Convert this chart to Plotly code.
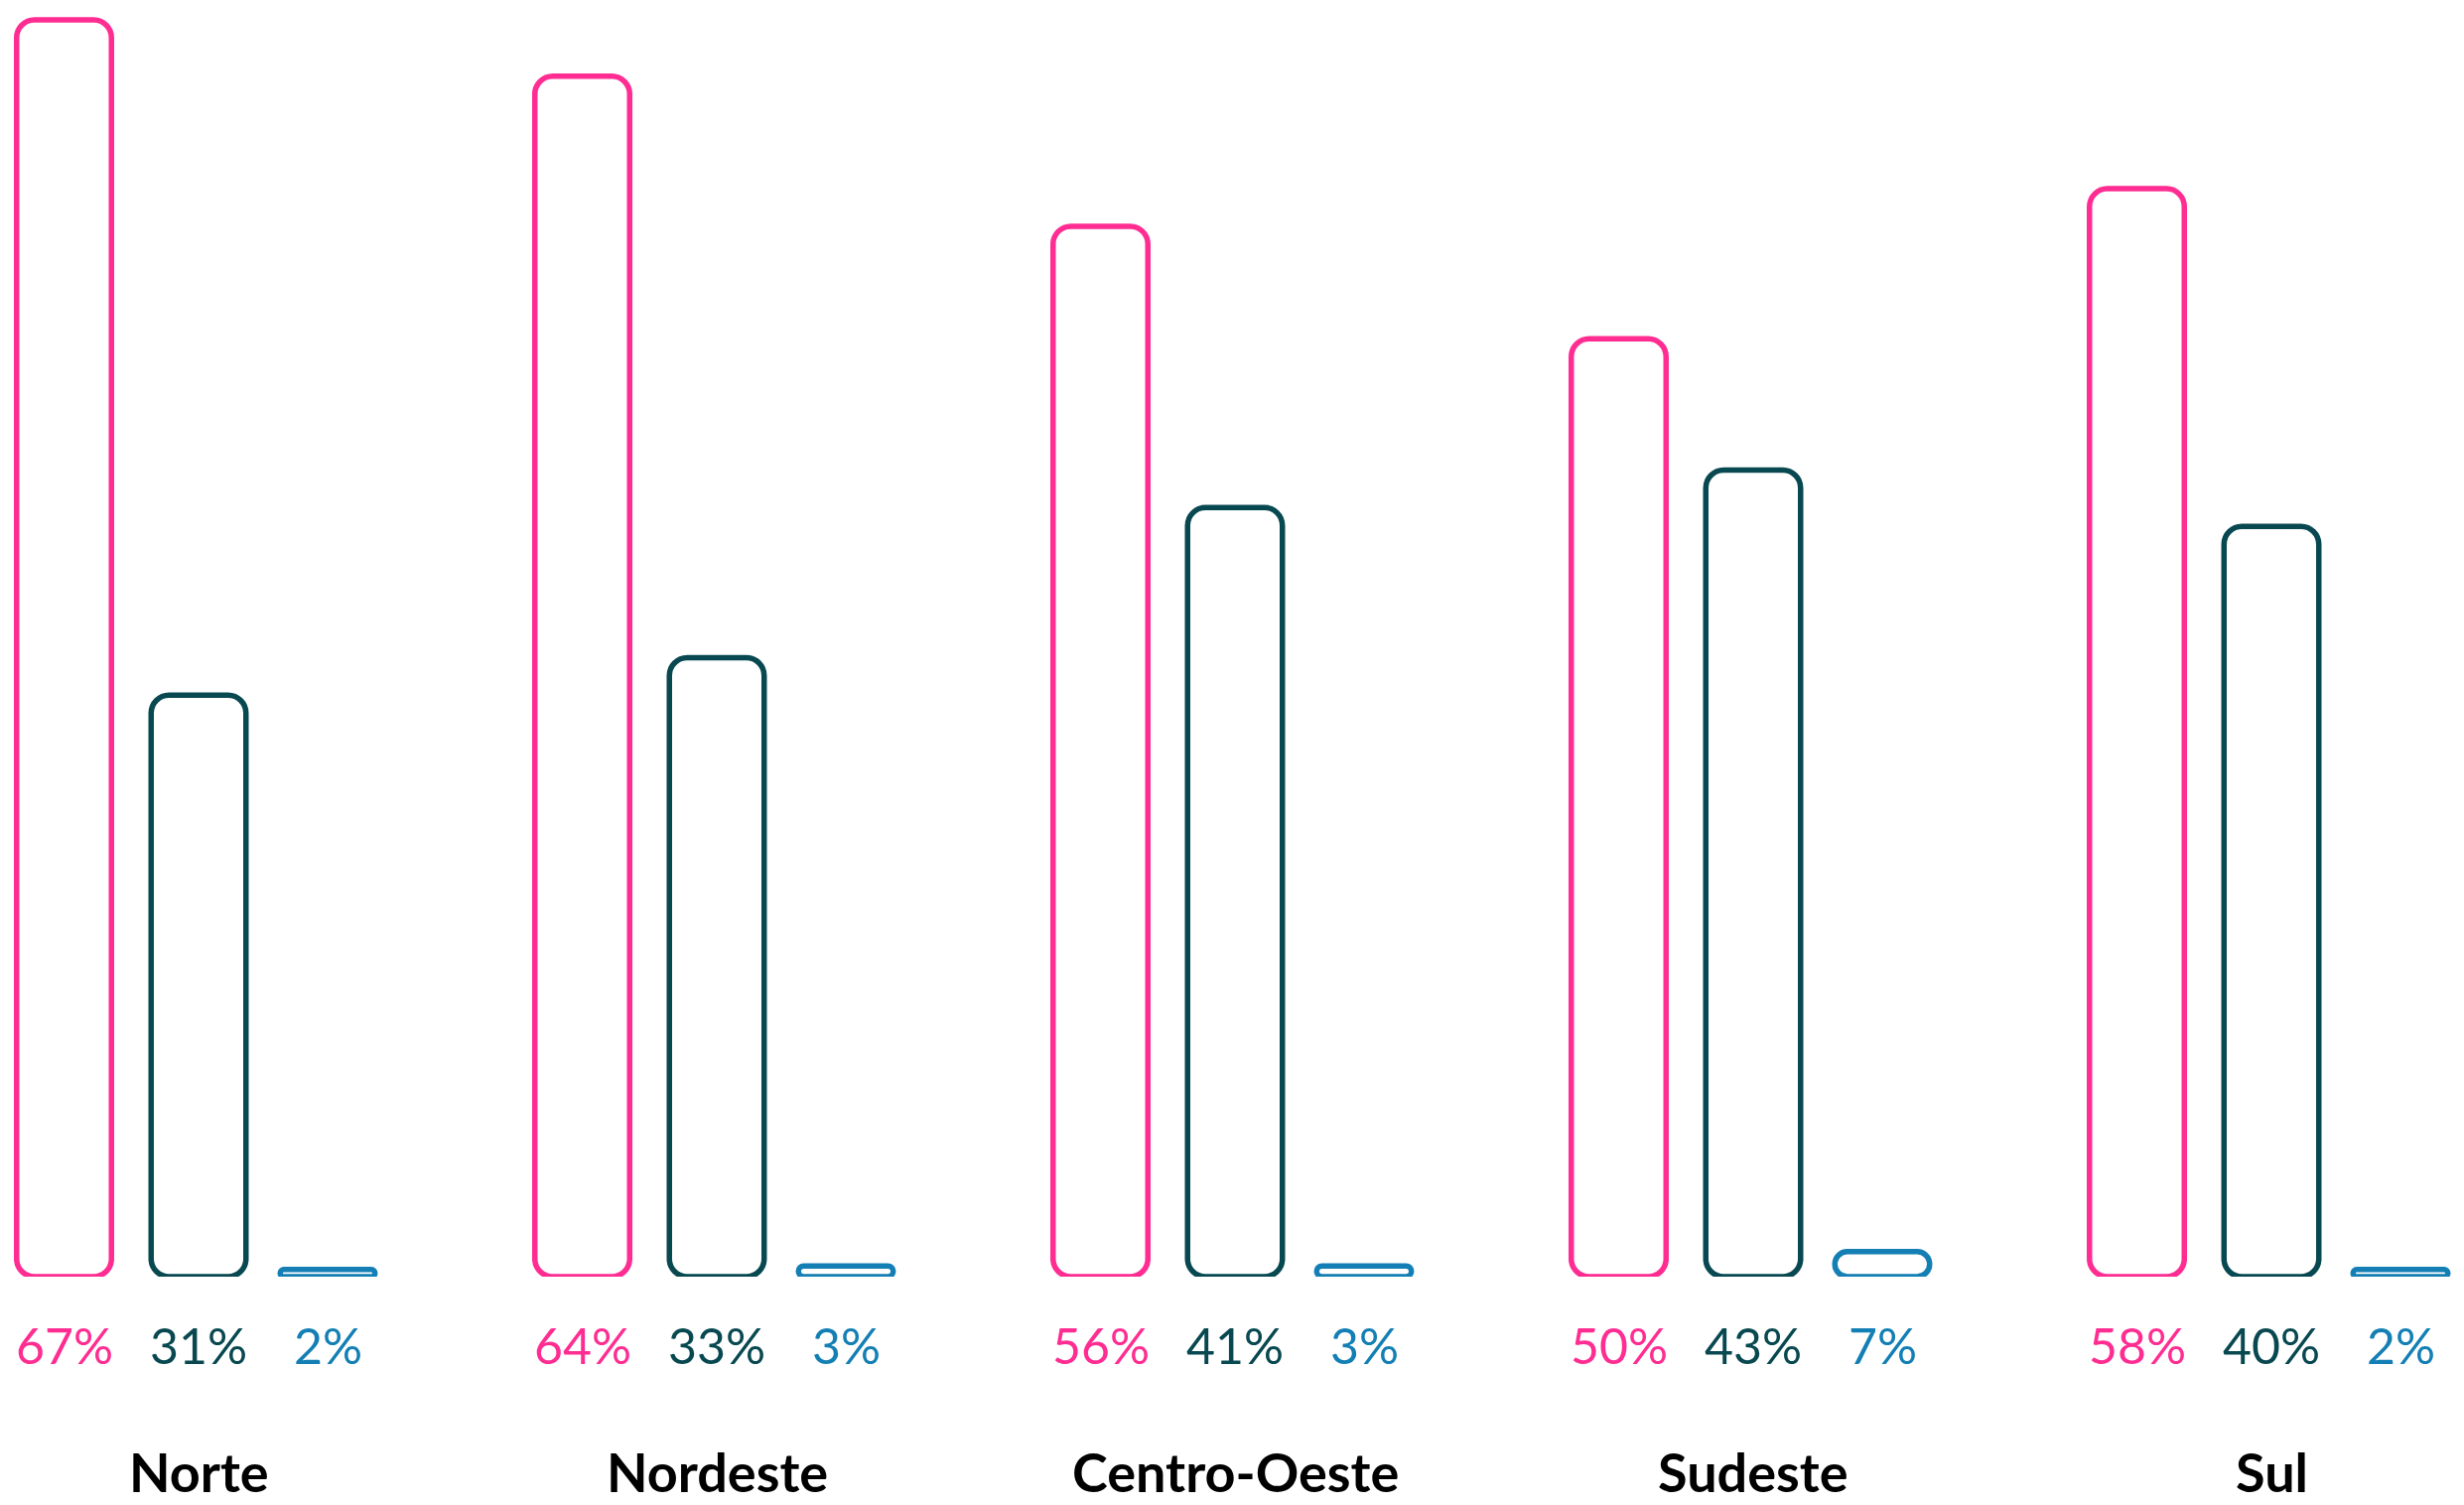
import plotly.graph_objects as go

# Regional breakdown, three answer groups per region (percent)
regions = ["Norte", "Nordeste", "Centro-Oeste", "Sudeste", "Sul"]
group_pink = [67, 64, 56, 50, 58]
group_teal = [31, 33, 41, 43, 40]
group_blue = [2, 3, 3, 7, 2]

PINK = "#FF2D92"
TEAL = "#084850"
BLUE = "#137FB4"

FONT = "Lato"
W, H = 2482, 1516
PLOT_BOTTOM = 230          # space under the baseline for the labels
PLOT_H = H - PLOT_BOTTOM

UNIT_PX = 522.0            # pixel distance between neighbouring regions
X0 = -200 / UNIT_PX
X1 = X0 + W / UNIT_PX

BAR_W = 95.5 / UNIT_PX
LINE_W = 5.5
RADIUS = 18

# centre offsets of the three bars inside a region (axis units)
centers = [-135.5 / UNIT_PX, 0.0, 130.0 / UNIT_PX]

series = [
    (group_pink, PINK, "y"),
    (group_teal, TEAL, "y"),
    (group_blue, BLUE, "y2"),
]

fig = go.Figure()
for (vals, color, yax), c in zip(series, centers):
    fig.add_trace(go.Bar(
        x=regions,
        y=vals,
        base=[0] * len(vals),
        offset=c - BAR_W / 2,
        width=BAR_W,
        yaxis=yax,
        marker=dict(color="white", line=dict(color=color, width=LINE_W),
                    cornerradius=RADIUS),
        cliponaxis=False,
        hoverinfo="skip",
        showlegend=False,
    ))

annotations = []
for i, region in enumerate(regions):
    for (vals, color, _), c in zip(series, centers):
        annotations.append(dict(
            x=i + c, xref="x", y=0, yref="paper", yanchor="middle",
            yshift=-69, text=f"{vals[i]}%", showarrow=False,
            font=dict(family=FONT, size=50, color=color),
        ))
    # region name, its text box resting on the bottom edge of the page
    annotations.append(dict(
        x=i, xref="x", y=-PLOT_BOTTOM / PLOT_H, yref="paper", yanchor="bottom",
        text=region, showarrow=False, borderpad=0,
        font=dict(family=FONT, size=54, color="#000000", weight="bold"),
    ))

fig.update_layout(
    width=W, height=H,
    margin=dict(l=0, r=0, t=0, b=PLOT_BOTTOM, pad=0),
    paper_bgcolor="white", plot_bgcolor="white",
    barmode="overlay",
    xaxis=dict(type="category", range=[X0, X1], visible=False, fixedrange=True),
    yaxis=dict(range=[0, PLOT_H / 18.895], visible=False, fixedrange=True),
    yaxis2=dict(range=[0, PLOT_H / 3.6], overlaying="y", visible=False,
                fixedrange=True),
    annotations=annotations,
)

fig.write_html("out.html", config={"displayModeBar": False})
